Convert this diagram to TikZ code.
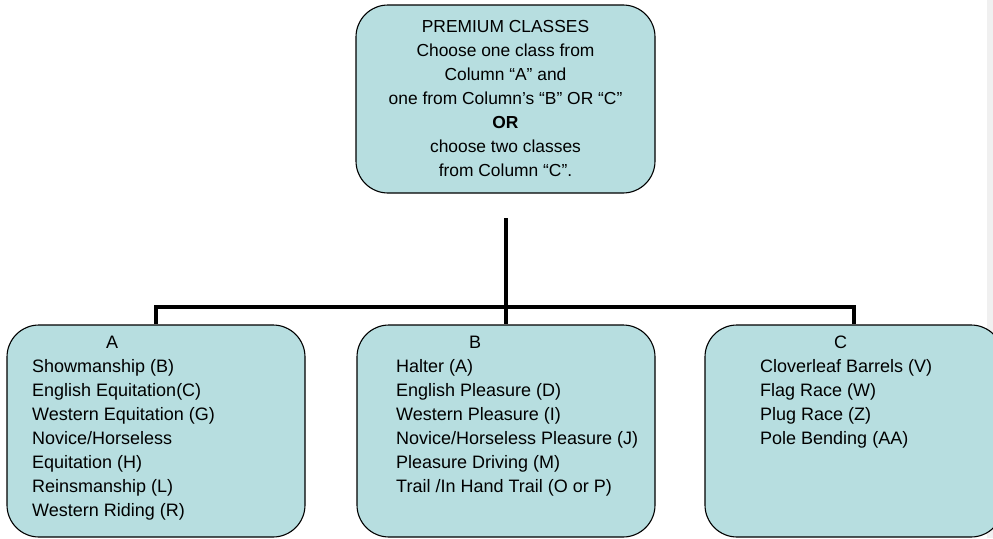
\documentclass[tikz,border=0pt]{standalone}
\usepackage{fontspec}
\setmainfont{Liberation Sans}
\definecolor{boxblue}{RGB}{183,222,224}
\definecolor{pageedge}{RGB}{240,240,240}
\tikzset{
  classbox/.style={draw=black, line width=1.1pt, fill=boxblue, rounded corners=32pt,
    minimum width=298pt, minimum height=212pt, inner sep=0pt},
  classtext/.style={inner sep=0pt, font=\fontsize{18}{24}\selectfont},
  branch/.style={line width=3.5pt},
}
\begin{document}
\begin{tikzpicture}[x=1pt,y=-1pt]
  \useasboundingbox (0,0) rectangle (993,538);
  \fill[white] (0,0) rectangle (993,538);
  \fill[pageedge] (987,0) rectangle (993,538);

  % top box
  \node[classbox, minimum width=299pt, minimum height=188pt, classtext, align=center,
    font=\fontsize{17.4}{24}\selectfont]
    (premium) at (505.5,99) {PREMIUM CLASSES\\Choose one class from\\Column “A” and\\
    one from Column’s “B” OR “C”\\\textbf{OR}\\choose two classes\\from Column “C”.};

  % column boxes
  \node[classbox] (colA) at (156,431) {};
  \node[classbox] (colB) at (506,431) {};
  \node[classbox] (colC) at (854,431) {};

  \node[classtext, align=left, anchor=north west] (listA) at (32,335.5)
    {\hspace*{74pt}A\\Showmanship (B)\\English Equitation(C)\\Western Equitation (G)\\
    Novice/Horseless\\Equitation (H)\\Reinsmanship (L)\\Western Riding (R)};
  \node[classtext, align=left, anchor=north west] (listB) at (396,335.5)
    {\hspace*{73pt}B\\Halter (A)\\English Pleasure (D)\\Western Pleasure (I)\\
    Novice/Horseless Pleasure (J)\\Pleasure Driving (M)\\Trail /In Hand Trail (O or P)};
  \node[classtext, align=left, anchor=north west] (listC) at (760,335.5)
    {\hspace*{74pt}C\\Cloverleaf Barrels (V)\\Flag Race (W)\\Plug Race (Z)\\Pole Bending (AA)};

  % connectors
  \coordinate (stem) at (506,218);
  \coordinate (split) at (506,307);
  \draw[branch] (stem) -- (colB.north);
  \draw[branch] (colA.north) |- (split) -| (colC.north);
\end{tikzpicture}
\end{document}
